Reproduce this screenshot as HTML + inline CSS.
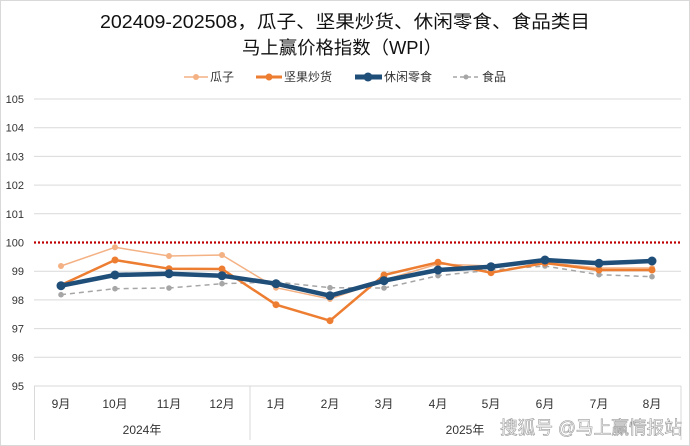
<!DOCTYPE html><html><head><meta charset="utf-8"><style>body{margin:0;background:#fff}svg{display:block}</style></head><body>
<svg width="690" height="446" viewBox="0 0 690 446" font-family="'Liberation Sans','Noto Sans CJK SC',sans-serif">
<rect x="0.5" y="0.5" width="689" height="445" fill="#fff" stroke="#d9d9d9"/>
<text x="100" y="28" font-size="18" fill="#111" textLength="490" lengthAdjust="spacingAndGlyphs">202409-202508，瓜子、坚果炒货、休闲零食、食品类目</text>
<text x="242" y="54" font-size="18" fill="#111" textLength="200" lengthAdjust="spacingAndGlyphs">马上赢价格指数（WPI）</text>
<g font-size="12" fill="#333">
<line x1="184" y1="77" x2="208" y2="77" stroke="#f4b183" stroke-width="1.5"/><circle cx="196" cy="77" r="3" fill="#f4b183"/><text x="210" y="81">瓜子</text>
<line x1="256" y1="77" x2="282" y2="77" stroke="#ed7d31" stroke-width="3"/><circle cx="269" cy="77" r="3.5" fill="#ed7d31"/><text x="284" y="81">坚果炒货</text>
<line x1="355" y1="77" x2="382" y2="77" stroke="#1f4e79" stroke-width="5"/><circle cx="368" cy="77" r="4.5" fill="#1f4e79"/><text x="384" y="81">休闲零食</text>
<line x1="453" y1="77" x2="480" y2="77" stroke="#a6a6a6" stroke-width="1.5" stroke-dasharray="4,3"/><circle cx="466" cy="77" r="2.5" fill="#a6a6a6"/><text x="482" y="81">食品</text>
</g>
<g stroke="#d9d9d9" stroke-width="1">
<line x1="34" y1="99" x2="681" y2="99"/><line x1="34" y1="127.7" x2="681" y2="127.7"/><line x1="34" y1="156.4" x2="681" y2="156.4"/><line x1="34" y1="185.1" x2="681" y2="185.1"/><line x1="34" y1="213.8" x2="681" y2="213.8"/><line x1="34" y1="271.2" x2="681" y2="271.2"/><line x1="34" y1="299.9" x2="681" y2="299.9"/><line x1="34" y1="328.6" x2="681" y2="328.6"/><line x1="34" y1="357.3" x2="681" y2="357.3"/><line x1="34" y1="386" x2="681" y2="386"/>
<line x1="34.5" y1="386" x2="34.5" y2="440"/><line x1="250" y1="386" x2="250" y2="440"/><line x1="681" y1="386" x2="681" y2="440"/>
</g>
<line x1="34" y1="242.5" x2="681" y2="242.5" stroke="#c00000" stroke-width="2.2" stroke-dasharray="2,2"/>
<g font-size="11" fill="#333" text-anchor="end">
<text x="24" y="103">105</text><text x="24" y="131.7">104</text><text x="24" y="160.4">103</text><text x="24" y="189.1">102</text><text x="24" y="217.8">101</text><text x="24" y="246.5">100</text><text x="24" y="275.2">99</text><text x="24" y="303.9">98</text><text x="24" y="332.6">97</text><text x="24" y="361.3">96</text><text x="24" y="390">95</text>
</g>
<g font-size="12" fill="#333" text-anchor="middle">
<text x="61" y="408">9月</text><text x="115" y="408">10月</text><text x="169" y="408">11月</text><text x="222" y="408">12月</text><text x="276" y="408">1月</text><text x="330" y="408">2月</text><text x="384" y="408">3月</text><text x="438" y="408">4月</text><text x="491" y="408">5月</text><text x="545" y="408">6月</text><text x="599" y="408">7月</text><text x="652" y="408">8月</text>
<text x="142" y="434">2024年</text><text x="465" y="434">2025年</text>
</g>
<g fill="none" stroke-linejoin="round">
<polyline stroke="#f4b183" stroke-width="1.5" points="61,266 115,247.3 169,256 222,255 276,287.7 330,299 384,280 438,264 491,266 545,262.5 599,268 652,268"/>
<polyline stroke="#a6a6a6" stroke-width="1.5" stroke-dasharray="5,4" points="61,294.7 115,288.7 169,288 222,283.7 276,282 330,287.7 384,288 438,275.7 491,270 545,266 599,274.7 652,276.7"/>
<polyline stroke="#ed7d31" stroke-width="2.5" points="61,285 115,260 169,268.7 222,269 276,304.7 330,320.7 384,275 438,262.3 491,272.7 545,263 599,270 652,270"/>
<polyline stroke="#1f4e79" stroke-width="4.5" points="61,285.7 115,275 169,273.7 222,275.7 276,283.7 330,295.7 384,280.7 438,270 491,266.7 545,260 599,263.3 652,261"/>
</g>
<g fill="#f4b183"><circle cx="61" cy="266" r="3"/><circle cx="115" cy="247.3" r="3"/><circle cx="169" cy="256" r="3"/><circle cx="222" cy="255" r="3"/><circle cx="276" cy="287.7" r="3"/><circle cx="330" cy="299" r="3"/><circle cx="384" cy="280" r="3"/><circle cx="438" cy="264" r="3"/><circle cx="491" cy="266" r="3"/><circle cx="545" cy="262.5" r="3"/><circle cx="599" cy="268" r="3"/><circle cx="652" cy="268" r="3"/></g>
<g fill="#a6a6a6"><circle cx="61" cy="294.7" r="2.8"/><circle cx="115" cy="288.7" r="2.8"/><circle cx="169" cy="288" r="2.8"/><circle cx="222" cy="283.7" r="2.8"/><circle cx="276" cy="282" r="2.8"/><circle cx="330" cy="287.7" r="2.8"/><circle cx="384" cy="288" r="2.8"/><circle cx="438" cy="275.7" r="2.8"/><circle cx="491" cy="270" r="2.8"/><circle cx="545" cy="266" r="2.8"/><circle cx="599" cy="274.7" r="2.8"/><circle cx="652" cy="276.7" r="2.8"/></g>
<g fill="#ed7d31"><circle cx="61" cy="285" r="3.5"/><circle cx="115" cy="260" r="3.5"/><circle cx="169" cy="268.7" r="3.5"/><circle cx="222" cy="269" r="3.5"/><circle cx="276" cy="304.7" r="3.5"/><circle cx="330" cy="320.7" r="3.5"/><circle cx="384" cy="275" r="3.5"/><circle cx="438" cy="262.3" r="3.5"/><circle cx="491" cy="272.7" r="3.5"/><circle cx="545" cy="263" r="3.5"/><circle cx="599" cy="270" r="3.5"/><circle cx="652" cy="270" r="3.5"/></g>
<g fill="#1f4e79"><circle cx="61" cy="285.7" r="4.5"/><circle cx="115" cy="275" r="4.5"/><circle cx="169" cy="273.7" r="4.5"/><circle cx="222" cy="275.7" r="4.5"/><circle cx="276" cy="283.7" r="4.5"/><circle cx="330" cy="295.7" r="4.5"/><circle cx="384" cy="280.7" r="4.5"/><circle cx="438" cy="270" r="4.5"/><circle cx="491" cy="266.7" r="4.5"/><circle cx="545" cy="260" r="4.5"/><circle cx="599" cy="263.3" r="4.5"/><circle cx="652" cy="261" r="4.5"/></g>
<text x="682" y="434" text-anchor="end" font-size="18" fill="#fff" stroke="#999" stroke-width="0.6" textLength="182" lengthAdjust="spacingAndGlyphs">搜狐号 @马上赢情报站</text>
</svg></body></html>
